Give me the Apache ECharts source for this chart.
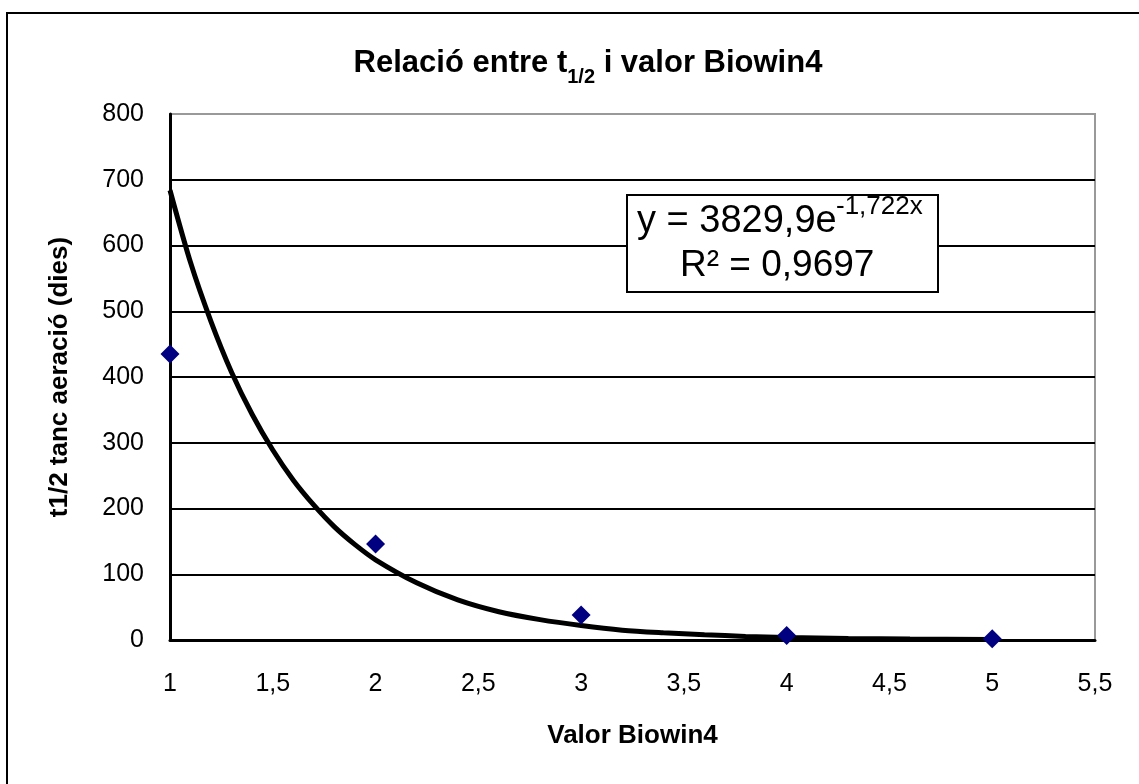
<!DOCTYPE html>
<html><head><meta charset="utf-8">
<script src="https://cdn.jsdelivr.net/npm/echarts@6/dist/echarts.min.js"></script>
<style>html,body{margin:0;padding:0;background:#fff}#c{width:1139px;height:784px}</style>
</head><body><div id="c"></div>
<script>
// Observed data (Biowin4 value, t1/2 days)
const biowinX = [1, 2, 3, 4, 5];
const halfLife = [435, 146, 38, 7, 2];
// Trend line values
const trendX = [1.0, 1.1, 1.2, 1.3, 1.4, 1.5, 1.6, 1.7, 1.8, 1.9, 2.0, 2.2, 2.4, 2.6, 2.8, 3.0, 3.2, 3.4, 3.6, 3.8, 4.0, 4.3, 4.6, 5.0];
const trendY = [684, 574, 484, 407, 343, 289, 243, 205, 172, 145, 122, 87, 61, 43, 31, 22, 15, 11, 8, 5.5, 3.9, 2.3, 1.4, 0.7];
const xTicks = [1, 1.5, 2, 2.5, 3, 3.5, 4, 4.5, 5, 5.5];
const yTicks = [0, 100, 200, 300, 400, 500, 600, 700, 800];

const font = '"Liberation Sans", Arial, sans-serif';
const chart = echarts.init(document.getElementById('c'), null, {renderer: 'canvas'});
chart.setOption({
  animation: false,
  backgroundColor: '#fff',
  title: {
    text: '{a|Relació entre t}{s|1/2}{a| i valor Biowin4}',
    left: 583, top: 36, textAlign: 'center',
    textStyle: {
      rich: {
        a: {fontFamily: font, fontSize: 31, fontWeight: 'bold', color: '#000', verticalAlign: 'bottom', lineHeight: 38},
        s: {fontFamily: font, fontSize: 20, fontWeight: 'bold', color: '#000', verticalAlign: 'bottom', lineHeight: 28, padding: [0, 0, -8, 0]}
      }
    }
  },
  grid: {left: 170, right: 44, top: 114, bottom: 144, show: true, borderColor: '#999', borderWidth: 2, backgroundColor: '#fff'},
  xAxis: {
    type: 'value', min: 1, max: 5.5, interval: 0.5,
    name: 'Valor Biowin4', nameLocation: 'middle', nameGap: 83,
    nameTextStyle: {fontFamily: font, fontSize: 26, fontWeight: 'bold', color: '#000'},
    axisLine: {show: true, onZero: false, lineStyle: {color: '#000', width: 3}},
    axisTick: {show: false},
    splitLine: {show: false},
    axisLabel: {fontFamily: font, fontSize: 25, color: '#000', margin: 32,
      formatter: v => xTicks.includes(v) ? String(v).replace('.', ',') : ''}
  },
  yAxis: {
    type: 'value', min: 0, max: 800, interval: 100,
    name: 't1/2 tanc aeració (dies)', nameLocation: 'middle', nameGap: 97, nameRotate: 90,
    nameTextStyle: {fontFamily: font, fontSize: 26, fontWeight: 'bold', color: '#000'},
    axisLine: {show: true, lineStyle: {color: '#000', width: 3}},
    axisTick: {show: false},
    splitLine: {show: true, lineStyle: {color: ['#000', '#000', '#000', '#000', '#000', '#000', '#000', '#000', '#999'], width: 2}},
    axisLabel: {fontFamily: font, fontSize: 25, color: '#000', margin: 26,
      formatter: v => yTicks.includes(v) ? String(v) : ''}
  },
  series: [
    {
      type: 'line', data: trendX.map((x, i) => [x, trendY[i]]),
      smooth: 0.3, showSymbol: false, symbol: 'none',
      lineStyle: {color: '#000', width: 5}, z: 3
    },
    {
      type: 'scatter', data: biowinX.map((x, i) => [x, halfLife[i]]),
      symbol: 'diamond', symbolSize: [19, 19],
      itemStyle: {color: '#000080', opacity: 1}, z: 4
    }
  ],
  graphic: [
    {type: 'rect', shape: {x: 7, y: 13, width: 1300, height: 1000}, style: {fill: 'none', stroke: '#000', lineWidth: 2}, silent: true, z: 0},
    {type: 'rect', shape: {x: 627, y: 195, width: 311, height: 97}, style: {fill: '#fff', stroke: '#000', lineWidth: 2}, z: 10},
    {type: 'text', left: 637, top: 203, z: 11, style: {
      text: 'y = 3829,9e', fontFamily: font, fontSize: 38, fill: '#000'
    }},
    {type: 'text', left: 836, top: 194, z: 11, style: {
      text: '-1,722x', fontFamily: font, fontSize: 26, fill: '#000'
    }},
    {type: 'text', left: 680, top: 247, z: 11, style: {
      text: 'R² = 0,9697', fontFamily: font, fontSize: 37, fill: '#000'
    }}
  ]
});
</script></body></html>
